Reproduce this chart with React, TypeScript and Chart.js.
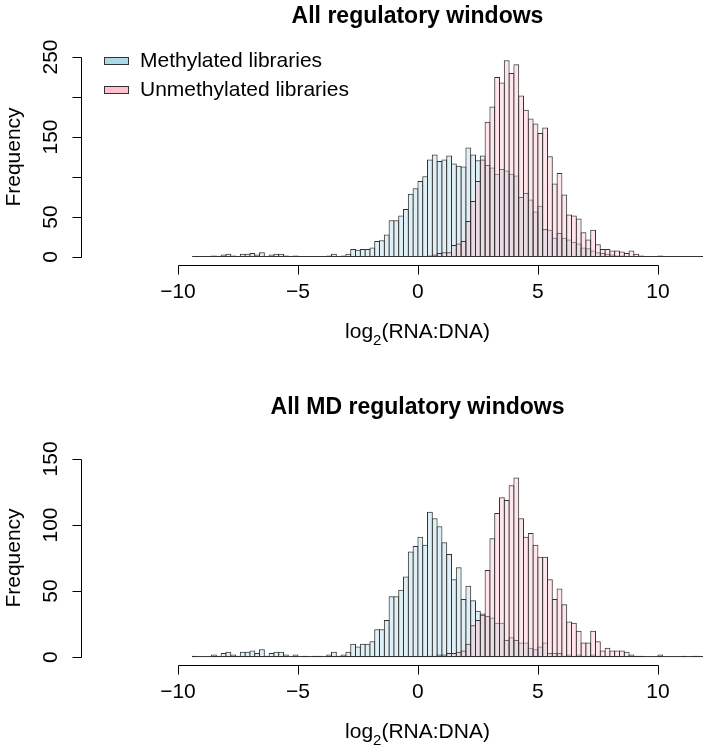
import React, { useEffect, useRef } from "react";
import { Chart, registerables } from "chart.js";

Chart.register(...registerables);

// ---------- data ----------
// Histogram bins: left edge of the first bin and bin width (log2 units)
const BIN_START = -9.4;
const BIN_WIDTH = 0.2;

// Panel 1: All regulatory windows (bins from -9.4 to 12.0)
const allMethylated = [
  1, 0, 0, 0, 2, 1, 3, 4, 2, 1, 4, 4, 5, 3, 6, 1, 3, 4, 4, 2,
  0, 2, 0, 1, 0, 1, 1, 0, 2, 4, 1, 2, 4, 10, 9, 10, 10, 12, 20, 21,
  28, 46, 46, 52, 60, 79, 86, 95, 101, 122, 128, 120, 122, 127, 117, 114, 113, 137, 128, 121,
  127, 115, 112, 104, 110, 108, 104, 102, 75, 80, 72, 57, 64, 35, 34, 24, 30, 24, 22, 19,
  17, 12, 11, 8, 6, 5, 4, 3, 2, 2, 1, 1, 1, 0, 0, 0, 0, 0, 0, 0,
  0, 0, 0, 0, 0, 0, 0,
];
const allUnmethylated = [
  0, 0, 0, 0, 0, 0, 0, 0, 0, 0, 0, 0, 0, 0, 0, 0, 0, 0, 0, 0,
  0, 0, 0, 0, 0, 0, 0, 0, 0, 0, 0, 0, 0, 0, 0, 0, 0, 0, 0, 0,
  0, 0, 0, 0, 0, 1, 0, 1, 1, 2, 3, 5, 6, 6, 15, 17, 20, 45, 70, 95,
  122, 169, 188, 225, 218, 246, 230, 241, 202, 184, 173, 167, 155, 162, 126, 92, 105, 78, 53, 52,
  48, 31, 22, 34, 16, 10, 10, 8, 8, 7, 5, 8, 4, 2, 1, 1, 0, 2, 0, 0,
  0, 0, 1, 0, 1, 1, 0,
];

// Panel 2: All MD regulatory windows
const mdMethylated = [
  1, 0, 0, 0, 2, 1, 3, 4, 2, 1, 4, 4, 5, 3, 6, 1, 3, 4, 4, 2,
  0, 2, 0, 1, 0, 1, 1, 0, 2, 4, 1, 2, 4, 10, 8, 10, 10, 12, 21, 21,
  28, 46, 46, 51, 61, 80, 84, 91, 85, 110, 105, 99, 87, 78, 59, 68, 44, 54, 43, 35,
  33, 31, 30, 26, 26, 13, 15, 13, 11, 11, 7, 6, 8, 11, 3, 3, 3, 1, 2, 1,
  2, 1, 1, 2, 1, 1, 0, 0, 0, 0, 0, 0, 0, 0, 0, 0, 0, 0, 0, 0,
  0, 0, 0, 0, 0, 0, 0,
];
const mdUnmethylated = [
  0, 0, 0, 0, 0, 0, 0, 0, 0, 0, 0, 0, 0, 0, 0, 0, 0, 0, 0, 0,
  0, 0, 0, 0, 0, 0, 0, 0, 0, 0, 0, 0, 0, 0, 0, 0, 0, 0, 0, 0,
  0, 0, 0, 0, 0, 0, 0, 0, 0, 1, 1, 2, 2, 3, 3, 4, 5, 10, 24, 28,
  32, 66, 90, 109, 121, 119, 130, 136, 105, 91, 94, 85, 76, 76, 59, 44, 52, 40, 27, 26,
  20, 11, 11, 20, 12, 5, 7, 5, 5, 5, 4, 2, 1, 1, 0, 0, 0, 2, 0, 0,
  0, 0, 1, 0, 1, 1, 0,
];

const xTicks = [-10, -5, 0, 5, 10];
const xTickLabels = ["\u221210", "\u22125", "0", "5", "10"];
const topYTicks = [0, 50, 100, 150, 200, 250];
const topYTickLabels = ["0", "50", "", "150", "", "250"];
const bottomYTicks = [0, 50, 100, 150];
const bottomYTickLabels = ["0", "50", "100", "150"];
const legendLabels = ["Methylated libraries", "Unmethylated libraries"];
const titles = ["All regulatory windows", "All MD regulatory windows"];

// ---------- styles ----------
const FONT = '"Liberation Sans", Arial, Helvetica, sans-serif';
const INK = "#000000";
const BAR_BORDER = "#333333";
const METH_FILL = "rgba(173,216,230,0.4)";
const UNMETH_FILL = "rgba(255,192,203,0.4)";
const METH_LEGEND = "#ADD8E6";
const UNMETH_LEGEND = "#FFC0CB";

type PanelProps = {
  title: string;
  meth: number[];
  unmeth: number[];
  yMin: number;
  yMax: number;
  yTicks: number[];
  yTickLabels: string[];
  height: number;
  padTop: number;
  padBottom: number;
  titleY: number;
  showLegend: boolean;
};

function Panel(props: PanelProps) {
  const ref = useRef<HTMLCanvasElement | null>(null);

  useEffect(() => {
    const canvas = ref.current;
    if (!canvas) return;
    const n = props.meth.length;
    const centers = props.meth.map((_, i) => BIN_START + BIN_WIDTH * (i + 0.5));
    const firstEdge = BIN_START;
    const lastEdge = BIN_START + BIN_WIDTH * n;

    const deco = {
      id: "deco",
      afterDatasetsDraw(chart: any) {
        const { ctx } = chart;
        const xs = chart.scales.x;
        const ys = chart.scales.y;
        const y0 = ys.getPixelForValue(0);
        ctx.save();
        ctx.strokeStyle = BAR_BORDER;
        ctx.lineWidth = 1;
        ctx.beginPath();
        ctx.moveTo(xs.getPixelForValue(firstEdge), y0 - 0.5);
        ctx.lineTo(xs.getPixelForValue(lastEdge), y0 - 0.5);
        ctx.stroke();
        ctx.restore();
      },
      afterDraw(chart: any) {
        const { ctx, chartArea } = chart;
        const xs = chart.scales.x;
        const ys = chart.scales.y;
        ctx.save();
        ctx.strokeStyle = INK;
        ctx.fillStyle = INK;
        ctx.lineWidth = 1;

        // x axis
        const ay = Math.round(chartArea.bottom) + 0.5;
        ctx.beginPath();
        ctx.moveTo(Math.round(xs.getPixelForValue(xTicks[0])) + 0.5, ay);
        ctx.lineTo(Math.round(xs.getPixelForValue(xTicks[xTicks.length - 1])) + 0.5, ay);
        xTicks.forEach((t) => {
          const px = Math.round(xs.getPixelForValue(t)) + 0.5;
          ctx.moveTo(px, ay);
          ctx.lineTo(px, ay + 9);
        });
        ctx.stroke();
        ctx.font = `21px ${FONT}`;
        ctx.textAlign = "center";
        ctx.textBaseline = "middle";
        xTicks.forEach((t, i) => {
          ctx.fillText(xTickLabels[i], xs.getPixelForValue(t), ay + 27);
        });

        // x axis title: log2(RNA:DNA)
        const cx = (chartArea.left + 754) / 2;
        const ty = ay + 67;
        ctx.textBaseline = "middle";
        const p1 = "log";
        const p2 = "2";
        const p3 = "(RNA:DNA)";
        ctx.font = `21px ${FONT}`;
        const w1 = ctx.measureText(p1).width;
        const w3 = ctx.measureText(p3).width;
        ctx.font = `15px ${FONT}`;
        const w2 = ctx.measureText(p2).width;
        const total = w1 + w2 + w3;
        let sx = cx - total / 2;
        ctx.textAlign = "left";
        ctx.font = `21px ${FONT}`;
        ctx.fillText(p1, sx, ty);
        sx += w1;
        ctx.font = `15px ${FONT}`;
        ctx.fillText(p2, sx, ty + 8);
        sx += w2;
        ctx.font = `21px ${FONT}`;
        ctx.fillText(p3, sx, ty);

        // y axis
        const ax = Math.round(chartArea.left) + 0.5;
        const yt = props.yTicks;
        ctx.beginPath();
        ctx.moveTo(ax, Math.round(ys.getPixelForValue(yt[0])) + 0.5);
        ctx.lineTo(ax, Math.round(ys.getPixelForValue(yt[yt.length - 1])) + 0.5);
        yt.forEach((t) => {
          const py = Math.round(ys.getPixelForValue(t)) + 0.5;
          ctx.moveTo(ax, py);
          ctx.lineTo(ax - 9, py);
        });
        ctx.stroke();
        ctx.font = `21px ${FONT}`;
        ctx.textAlign = "center";
        ctx.textBaseline = "alphabetic";
        yt.forEach((t, i) => {
          const lab = props.yTickLabels[i];
          if (!lab) return;
          ctx.save();
          ctx.translate(ax - 24.5, ys.getPixelForValue(t));
          ctx.rotate(-Math.PI / 2);
          ctx.fillText(lab, 0, 0);
          ctx.restore();
        });
        // y axis title
        ctx.save();
        ctx.translate(20, (chartArea.top + chartArea.bottom) / 2);
        ctx.rotate(-Math.PI / 2);
        ctx.fillText("Frequency", 0, 0);
        ctx.restore();

        // title
        ctx.font = `bold 23px ${FONT}`;
        ctx.textAlign = "center";
        ctx.textBaseline = "middle";
        ctx.fillText(props.title, cx, props.titleY);

        // legend
        if (props.showLegend) {
          const fills = [METH_LEGEND, UNMETH_LEGEND];
          const rows = [61, 90];
          ctx.font = `21px ${FONT}`;
          ctx.textAlign = "left";
          ctx.textBaseline = "middle";
          legendLabels.forEach((lab, i) => {
            ctx.fillStyle = fills[i];
            ctx.fillRect(104, rows[i] - 3.5, 24, 7);
            ctx.strokeStyle = BAR_BORDER;
            ctx.strokeRect(104.5, rows[i] - 3.5, 24, 7);
            ctx.fillStyle = INK;
            ctx.fillText(lab, 140, rows[i]);
          });
        }
        ctx.restore();
      },
    };

    const barStyle = {
      borderColor: BAR_BORDER,
      borderWidth: 1,
      borderSkipped: false,
      grouped: false,
      barThickness: 5.8,
      inflateAmount: 0,
    };

    const chart = new Chart(canvas, {
      type: "bar",
      data: {
        datasets: [
          {
            label: legendLabels[1],
            data: centers.map((c, i) => ({ x: c, y: props.unmeth[i] })),
            backgroundColor: UNMETH_FILL,
            order: 0,
            ...barStyle,
          } as any,
          {
            label: legendLabels[0],
            data: centers.map((c, i) => ({ x: c, y: props.meth[i] })),
            backgroundColor: METH_FILL,
            order: 1,
            ...barStyle,
          } as any,
        ],
      },
      options: {
        animation: false,
        responsive: false,
        maintainAspectRatio: false,
        devicePixelRatio: 1,
        layout: {
          padding: { left: 81, right: 0, top: props.padTop, bottom: props.padBottom },
        },
        plugins: {
          legend: { display: false },
          tooltip: { enabled: false },
          title: { display: false },
        },
        scales: {
          x: {
            type: "linear",
            min: -14.04,
            max: 11.88,
            offset: false,
            display: false,
          },
          y: {
            type: "linear",
            min: props.yMin,
            max: props.yMax,
            display: false,
          },
        },
      },
      plugins: [deco],
    } as any);

    return () => chart.destroy();
  }, [props]);

  return (
    <canvas
      ref={ref}
      width={703}
      height={props.height}
      style={{ display: "block", width: 703, height: props.height }}
    />
  );
}

const topPanel: PanelProps = {
  title: titles[0],
  meth: allMethylated,
  unmeth: allUnmethylated,
  yMin: -10,
  yMax: 260,
  yTicks: topYTicks,
  yTickLabels: topYTickLabels,
  height: 375,
  padTop: 49,
  padBottom: 110,
  titleY: 17,
  showLegend: true,
};

const bottomPanel: PanelProps = {
  title: titles[1],
  meth: mdMethylated,
  unmeth: mdUnmethylated,
  yMin: -6,
  yMax: 156,
  yTicks: bottomYTicks,
  yTickLabels: bottomYTickLabels,
  height: 374,
  padTop: 76,
  padBottom: 84,
  titleY: 33,
  showLegend: false,
};

export default function App() {
  return (
    <div
      style={{
        position: "absolute",
        left: 0,
        top: 0,
        width: 703,
        height: 749,
        background: "#ffffff",
        overflow: "hidden",
      }}
    >
      <Panel {...topPanel} />
      <Panel {...bottomPanel} />
    </div>
  );
}
